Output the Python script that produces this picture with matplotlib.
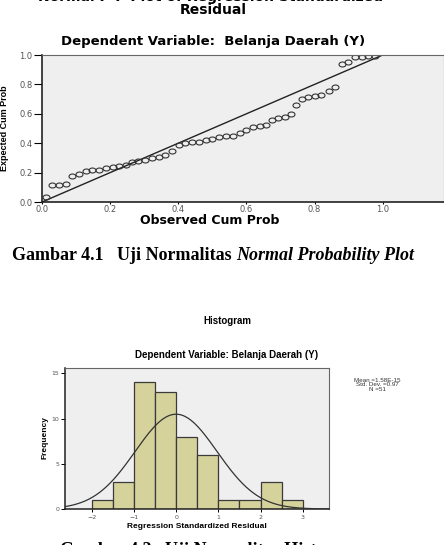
import numpy as np
import matplotlib
matplotlib.use("Agg")
import matplotlib.pyplot as plt
from matplotlib.path import Path
from matplotlib.transforms import Affine2D

# P-P plot data
observed = [0.011, 0.030, 0.050, 0.070, 0.089, 0.109, 0.128, 0.148, 0.168, 0.187,
            0.207, 0.227, 0.246, 0.264, 0.283, 0.303, 0.322, 0.342, 0.362, 0.382,
            0.402, 0.421, 0.441, 0.461, 0.480, 0.500, 0.520, 0.540, 0.560, 0.580,
            0.600, 0.620, 0.640, 0.657, 0.675, 0.693, 0.713, 0.730, 0.747, 0.764,
            0.782, 0.801, 0.820, 0.842, 0.861, 0.880, 0.898, 0.919, 0.938, 0.958,
            0.978]
expected = [0.036, 0.116, 0.118, 0.120, 0.177, 0.190, 0.209, 0.218, 0.218, 0.229,
            0.240, 0.245, 0.250, 0.270, 0.277, 0.284, 0.300, 0.305, 0.320, 0.350,
            0.386, 0.400, 0.410, 0.410, 0.420, 0.430, 0.440, 0.450, 0.452, 0.470,
            0.490, 0.510, 0.520, 0.525, 0.560, 0.570, 0.580, 0.600, 0.660, 0.700,
            0.717, 0.720, 0.725, 0.755, 0.780, 0.937, 0.950, 0.986, 0.988, 0.990,
            0.995]
pp_ticks = [0.0, 0.2, 0.4, 0.6, 0.8, 1.0]

# histogram data
bin_edges = [-2.0, -1.5, -1.0, -0.5, 0.0, 0.5, 1.0, 1.5, 2.0, 2.5, 3.0]
counts = [1, 3, 14, 13, 8, 6, 1, 1, 3, 1]
res_mean = 1.58e-15
res_std = 0.97
res_n = 51
hist_xticks = [-2, -1, 0, 1, 2, 3]
hist_yticks = [0, 5, 10, 15]

W, H = 444, 545
fig = plt.figure(figsize=(W / 100, H / 100), dpi=100)
fig.patch.set_facecolor("white")


def px(x, y):
    return x / W, 1 - y / H


def ax_rect(l, t, r, b):
    return [l / W, 1 - b / H, (r - l) / W, (b - t) / H]


bg = "#efefef"

# ---- Normal P-P plot ----
ax1 = fig.add_axes(ax_rect(42, 55, 444, 202))
ax1.set_facecolor(bg)
ell = Path.unit_circle().transformed(Affine2D().scale(1.4, 1.0))
ax1.plot([0, 1], [0, 1], color="#222222", lw=1.0)
ax1.plot(observed, expected, linestyle="none", marker=ell, markersize=5,
         mfc="none", mec="#333333", mew=0.8)
ax1.set_xlim(0, 1.18)
ax1.set_ylim(0, 1)
ax1.set_xticks(pp_ticks)
ax1.set_yticks(pp_ticks)
ax1.set_xticklabels(["%.1f" % t for t in pp_ticks])
ax1.set_yticklabels(["%.1f" % t for t in pp_ticks])
ax1.tick_params(axis="y", length=6, width=0.8, pad=1, labelsize=6, labelcolor="#555555")
ax1.tick_params(axis="x", length=1.5, width=0.8, pad=1, labelsize=6, labelcolor="#555555")
for s in ["left", "bottom"]:
    ax1.spines[s].set_color("#222222")
    ax1.spines[s].set_linewidth(1.2)
for s in ["top", "right"]:
    ax1.spines[s].set_color("#666666")
    ax1.spines[s].set_linewidth(0.8)

fig.text(*px(210, -3), "Normal P-P Plot of Regression Standardized",
         ha="center", va="center", fontsize=10, fontweight="bold",
         family="DejaVu Sans")
fig.text(*px(213, 10), "Residual", ha="center", va="center", fontsize=10,
         fontweight="bold", family="DejaVu Sans")
fig.text(*px(213, 42), "Dependent Variable:  Belanja Daerah (Y)", ha="center",
         va="center", fontsize=9.5, fontweight="bold", family="DejaVu Sans")
fig.text(*px(210, 221), "Observed Cum Prob", ha="center", va="center",
         fontsize=9, fontweight="bold", family="DejaVu Sans")
fig.text(*px(5, 128), "Expected Cum Prob", ha="center", va="center",
         rotation=90, fontsize=6.5, fontweight="bold", family="Liberation Sans")

# caption 1
renderer = fig.canvas.get_renderer()
t1 = fig.text(*px(12, 255), "Gambar 4.1   Uji Normalitas ", ha="left",
              va="center", fontsize=13, fontweight="bold",
              family="Liberation Serif")
bb = t1.get_window_extent(renderer)
fig.text(bb.x1 / W, 1 - 255 / H, "Normal Probability Plot", ha="left",
         va="center", fontsize=13, fontweight="bold", fontstyle="italic",
         family="Liberation Serif")

# ---- Histogram ----
ax2 = fig.add_axes(ax_rect(65, 368, 329, 509))
ax2.set_facecolor(bg)
widths = np.diff(bin_edges)
ax2.bar(bin_edges[:-1], counts, width=widths, align="edge", color="#d5d29c",
        edgecolor="#3a3a3a", linewidth=0.9, zorder=2)
xs = np.linspace(-2.63, 3.62, 300)
curve = res_n * 0.5 / (res_std * np.sqrt(2 * np.pi)) * np.exp(-0.5 * ((xs - res_mean) / res_std) ** 2)
ax2.plot(xs, curve, color="#333333", lw=0.9, zorder=3)
ax2.set_xlim(-2.63, 3.62)
ax2.set_ylim(0, 15.6)
ax2.set_xticks(hist_xticks)
ax2.set_yticks(hist_yticks)
ax2.tick_params(axis="y", length=3, width=0.7, pad=1, labelsize=4.5, labelcolor="#555555")
ax2.tick_params(axis="x", length=2, width=0.7, pad=2, labelsize=4.5, labelcolor="#555555")
for s in ["left", "bottom"]:
    ax2.spines[s].set_color("#222222")
    ax2.spines[s].set_linewidth(1.1)
for s in ["top", "right"]:
    ax2.spines[s].set_color("#666666")
    ax2.spines[s].set_linewidth(0.8)

fig.text(*px(227, 321), "Histogram", ha="center", va="center", fontsize=7,
         fontweight="bold", family="Liberation Sans")
fig.text(*px(227, 355), "Dependent Variable: Belanja Daerah (Y)", ha="center",
         va="center", fontsize=7, fontweight="bold", family="Liberation Sans")
fig.text(*px(197, 527), "Regression Standardized Residual", ha="center",
         va="center", fontsize=6, fontweight="bold", family="Liberation Sans")
fig.text(*px(45, 438), "Frequency", ha="center", va="center", rotation=90,
         fontsize=6, fontweight="bold", family="Liberation Sans")
fig.text(*px(377, 385), "Mean =%.2fE-15\nStd. Dev. =%.2f\nN =%d" % (res_mean * 1e15, res_std, res_n),
         ha="center", va="center", fontsize=4.5, linespacing=0.95,
         family="Liberation Sans", color="#333333")

fig.text(*px(60, 542), "Gambar 4.2   Uji Normalitas Histogram", ha="left",
         va="top", fontsize=13, fontweight="bold", family="Liberation Serif")

fig.savefig("out.png", dpi=100, facecolor="white")
